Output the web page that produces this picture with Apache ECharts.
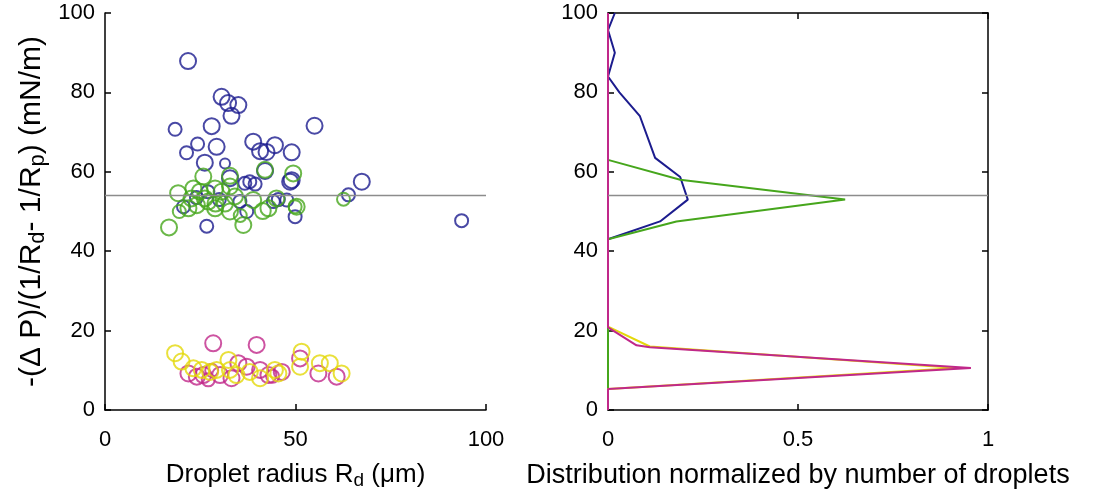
<!DOCTYPE html>
<html>
<head>
<meta charset="utf-8">
<script src="https://cdn.jsdelivr.net/npm/echarts@6/dist/echarts.min.js"></script>
<style>
  html, body { margin: 0; padding: 0; background: #fff; }
  #chart { width: 1097px; height: 497px; }
</style>
</head>
<body>
<div id="chart"></div>
<script>
// Scatter points: [droplet radius (µm), tension (mN/m), marker size class]
const blueDrops = [
  [21.8, 87.9, 3], [30.6, 78.9, 3], [32.3, 77.3, 3], [35.0, 76.8, 3], [33.2, 74.1, 3],
  [18.4, 70.7, 2], [28.0, 71.5, 3], [55.0, 71.6, 3],
  [21.4, 64.8, 2], [24.3, 67.0, 2], [29.3, 66.3, 3], [26.2, 62.3, 3], [31.5, 62.1, 1],
  [38.9, 67.6, 3], [40.7, 65.2, 3], [42.4, 65.0, 3], [44.6, 66.7, 3], [49.0, 64.9, 3],
  [42.0, 60.2, 3], [48.6, 57.5, 3], [36.7, 57.1, 2], [38.0, 57.5, 2], [39.4, 56.9, 2],
  [32.8, 58.4, 3], [67.4, 57.5, 3], [63.9, 54.2, 2], [49.0, 57.9, 3],
  [93.6, 47.7, 2], [49.9, 48.7, 2], [47.7, 52.9, 2], [20.6, 51.2, 2], [26.7, 46.3, 2],
  [37.2, 50.0, 2], [35.4, 52.5, 2], [44.2, 52.5, 2], [45.5, 53.0, 2], [24.0, 53.5, 2],
  [27.0, 55.0, 2], [30.0, 53.0, 2]
];
const greenDrops = [
  [25.8, 58.8, 3], [32.8, 59.0, 3], [42.0, 60.5, 3], [49.4, 59.6, 3],
  [19.2, 54.6, 3], [23.2, 55.8, 3], [24.9, 55.0, 3], [26.2, 53.3, 3], [24.1, 51.6, 3],
  [28.9, 55.8, 3], [30.6, 55.0, 3], [32.8, 56.3, 3], [34.1, 53.8, 3], [31.5, 52.0, 3],
  [28.9, 50.8, 3], [21.9, 50.8, 3], [38.9, 52.9, 3], [32.8, 50.0, 3], [36.3, 46.6, 3],
  [41.4, 50.1, 3], [42.9, 50.8, 3], [45.0, 53.3, 3], [50.3, 51.2, 3], [16.8, 46.0, 3],
  [27.1, 52.5, 3], [22.7, 53.3, 3], [49.9, 51.2, 2], [62.6, 53.1, 2], [19.5, 50.0, 2],
  [29.0, 52.0, 3], [35.5, 49.0, 2]
];
const magentaDrops = [
  [28.4, 16.8, 3], [39.8, 16.4, 3], [21.9, 9.2, 3], [24.1, 8.4, 3], [25.8, 8.8, 3],
  [27.1, 7.6, 2], [30.2, 8.8, 3], [33.2, 8.0, 3], [35.0, 11.8, 3], [40.7, 10.1, 3],
  [42.9, 8.8, 3], [46.4, 9.6, 3], [51.2, 13.0, 3], [56.0, 9.2, 3], [60.8, 8.4, 3],
  [37.2, 10.9, 3], [28.0, 10.0, 2], [44.0, 8.5, 2]
];
const yellowDrops = [
  [18.4, 14.3, 3], [20.1, 12.2, 3], [23.2, 10.5, 3], [25.4, 10.1, 3], [27.6, 9.6, 3],
  [32.4, 12.6, 3], [32.8, 10.1, 3], [34.5, 8.8, 3], [38.0, 9.6, 3], [40.7, 8.0, 3],
  [44.6, 10.1, 3], [45.5, 9.2, 3], [51.6, 14.7, 3], [51.2, 10.9, 3], [56.4, 11.8, 3],
  [59.0, 11.8, 3], [62.1, 9.2, 3], [29.3, 10.1, 3]
];

// Normalized distributions: [fraction of droplets, tension bin (mN/m)]
const blueDist = [
  [0, 0], [0, 43], [0.137, 47.5], [0.21, 53], [0.19, 58.7], [0.124, 63.5],
  [0.084, 74], [0.03, 80], [0, 84], [0.018, 90], [0, 95.7], [0.018, 100]
];
const greenDist = [
  [0, 0], [0, 43], [0.18, 47.5], [0.624, 53], [0.19, 58], [0, 63], [0, 100]
];
const yellowDist = [
  [0, 0], [0, 5.3], [0.92, 10.6], [0.11, 16], [0, 21], [0, 100]
];
const magentaDist = [
  [0, 0], [0, 5.3], [0.955, 10.6], [0.11, 15.8], [0.075, 16.3], [0, 20.8], [0, 100]
];

// Reference tension level drawn across both panels
const referenceTension = 54;

const xTicksLeft = [0, 50, 100];
const yTicks = [0, 20, 40, 60, 80, 100];
const xTicksRight = [0, 0.5, 1];

const COLORS = {
  blue: '#1c1c8e',
  green: '#46a61c',
  yellow: '#e4d80a',
  magenta: '#c0288a'
};
const FONT = '"Liberation Sans", Arial, Helvetica, sans-serif';
const SIZE_PX = { 1: 10, 2: 13, 3: 16 };

const chart = echarts.init(document.getElementById('chart'), null, { renderer: 'canvas' });

const labelStyle = { color: '#000', fontSize: 22, fontFamily: FONT };
function titleRich(size) {
  return {
    n: { fontSize: size, fontFamily: FONT, color: '#000', lineHeight: size + 4, verticalAlign: 'middle' },
    s: { fontSize: Math.round(size * 0.72), fontFamily: FONT, color: '#000', lineHeight: Math.round(size * 0.6), verticalAlign: 'bottom' }
  };
}
const axisLine = { show: true, onZero: false, lineStyle: { color: '#000', width: 1.5 } };
const tickIn = { show: true, inside: true, length: 6, lineStyle: { color: '#000', width: 1.5 } };

function refLine() {
  return {
    silent: true,
    symbol: ['none', 'none'],
    label: { show: false },
    lineStyle: { color: '#8c8c8c', width: 1.3, type: 'solid' },
    data: [{ yAxis: referenceTension }],
    animation: false
  };
}

function scatterSeries(data, color, withRef) {
  const s = {
    type: 'scatter',
    xAxisIndex: 0,
    yAxisIndex: 0,
    data: data,
    symbol: 'circle',
    symbolSize: d => SIZE_PX[d[2]],
    itemStyle: { color: 'rgba(0,0,0,0)', borderColor: color, borderWidth: 2 },
    emphasis: { disabled: true },
    silent: true,
    animation: false
  };
  if (withRef) s.markLine = refLine();
  return s;
}

function distSeries(data, color, withRef) {
  const s = {
    type: 'line',
    xAxisIndex: 1,
    yAxisIndex: 1,
    data: data,
    showSymbol: false,
    symbol: 'none',
    clip: false,
    lineStyle: { color: color, width: 2 },
    emphasis: { disabled: true },
    silent: true,
    animation: false
  };
  if (withRef) s.markLine = refLine();
  return s;
}

const option = {
  backgroundColor: '#fff',
  animation: false,
  grid: [
    { left: 105, top: 13, width: 381, height: 397 },
    { left: 608, top: 13, width: 380, height: 397 }
  ],
  xAxis: [
    {
      type: 'value', gridIndex: 0, min: xTicksLeft[0], max: xTicksLeft[xTicksLeft.length - 1],
      interval: xTicksLeft[1] - xTicksLeft[0],
      axisLine: axisLine, axisTick: tickIn, splitLine: { show: false },
      axisLabel: Object.assign({ margin: 19 }, labelStyle),
      name: '{n|Droplet radius R}{s|d}{n| (\u03bcm)}',
      nameLocation: 'middle', nameGap: 50,
      nameTextStyle: { rich: titleRich(26) }
    },
    {
      type: 'value', gridIndex: 1, min: xTicksRight[0], max: xTicksRight[xTicksRight.length - 1],
      interval: xTicksRight[1] - xTicksRight[0],
      axisLine: axisLine, axisTick: tickIn, splitLine: { show: false },
      axisLabel: Object.assign({ margin: 19, formatter: v => String(v) }, labelStyle),
      name: '{n|Distribution normalized by number of droplets}',
      nameLocation: 'middle', nameGap: 50,
      nameTextStyle: { rich: titleRich(27) }
    },
    {
      type: 'value', gridIndex: 1, position: 'top', min: xTicksRight[0], max: xTicksRight[xTicksRight.length - 1],
      interval: xTicksRight[1] - xTicksRight[0],
      axisLine: axisLine, axisTick: tickIn, splitLine: { show: false },
      axisLabel: { show: false }
    }
  ],
  yAxis: [
    {
      type: 'value', gridIndex: 0, min: yTicks[0], max: yTicks[yTicks.length - 1],
      interval: yTicks[1] - yTicks[0],
      axisLine: axisLine, axisTick: tickIn, splitLine: { show: false },
      axisLabel: Object.assign({ margin: 10 }, labelStyle),
      name: '{n|-(\u0394 P)/(1/R}{s|d}{n|- 1/R}{s|p}{n|) (mN/m)}',
      nameLocation: 'middle', nameGap: 56, nameRotate: 90,
      nameTextStyle: { rich: titleRich(30) }
    },
    {
      type: 'value', gridIndex: 1, min: yTicks[0], max: yTicks[yTicks.length - 1],
      interval: yTicks[1] - yTicks[0],
      axisLine: axisLine, axisTick: tickIn, splitLine: { show: false },
      axisLabel: Object.assign({ margin: 10 }, labelStyle)
    },
    {
      type: 'value', gridIndex: 1, position: 'right', min: yTicks[0], max: yTicks[yTicks.length - 1],
      interval: yTicks[1] - yTicks[0],
      axisLine: axisLine, axisTick: tickIn, splitLine: { show: false },
      axisLabel: { show: false }
    }
  ],
  series: [
    scatterSeries(blueDrops, COLORS.blue, true),
    scatterSeries(greenDrops, COLORS.green, false),
    scatterSeries(magentaDrops, COLORS.magenta, false),
    scatterSeries(yellowDrops, COLORS.yellow, false),
    distSeries(blueDist, COLORS.blue, true),
    distSeries(greenDist, COLORS.green, false),
    distSeries(yellowDist, COLORS.yellow, false),
    distSeries(magentaDist, COLORS.magenta, false)
  ]
};

chart.setOption(option);
</script>
</body>
</html>
